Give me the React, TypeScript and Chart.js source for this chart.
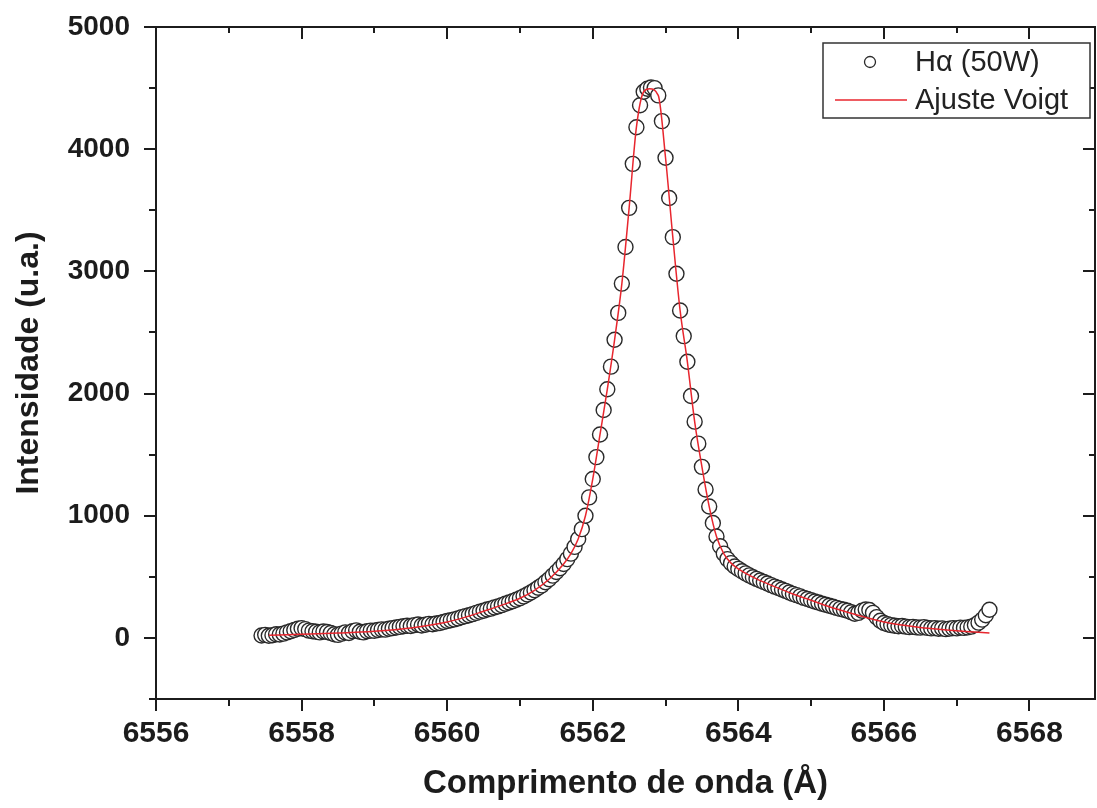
import React, { useEffect, useRef } from 'react';
import { Chart, registerables } from 'chart.js';

Chart.register(...registerables);

// Measured spectrum (Å, a.u.)
const wavelength = [
  6557.45, 6557.5, 6557.55, 6557.6, 6557.65, 6557.7, 6557.75, 6557.8, 6557.85, 6557.9,
  6557.95, 6558.0, 6558.05, 6558.1, 6558.15, 6558.2, 6558.25, 6558.3, 6558.35, 6558.4,
  6558.45, 6558.5, 6558.55, 6558.6, 6558.65, 6558.7, 6558.75, 6558.8, 6558.85, 6558.9,
  6558.95, 6559.0, 6559.05, 6559.1, 6559.15, 6559.2, 6559.25, 6559.3, 6559.35, 6559.4,
  6559.45, 6559.5, 6559.55, 6559.6, 6559.65, 6559.7, 6559.75, 6559.8, 6559.85, 6559.9,
  6559.95, 6560.0, 6560.05, 6560.1, 6560.15, 6560.2, 6560.25, 6560.3, 6560.35, 6560.4,
  6560.45, 6560.5, 6560.55, 6560.6, 6560.65, 6560.7, 6560.75, 6560.8, 6560.85, 6560.9,
  6560.95, 6561.0, 6561.05, 6561.1, 6561.15, 6561.2, 6561.25, 6561.3, 6561.35, 6561.4,
  6561.45, 6561.5, 6561.55, 6561.6, 6561.65, 6561.7, 6561.75, 6561.8, 6561.85, 6561.9,
  6561.95, 6562.0, 6562.05, 6562.1, 6562.15, 6562.2, 6562.25, 6562.3, 6562.35, 6562.4,
  6562.45, 6562.5, 6562.55, 6562.6, 6562.65, 6562.7, 6562.75, 6562.8, 6562.85, 6562.9,
  6562.95, 6563.0, 6563.05, 6563.1, 6563.15, 6563.2, 6563.25, 6563.3, 6563.35, 6563.4,
  6563.45, 6563.5, 6563.55, 6563.6, 6563.65, 6563.7, 6563.75, 6563.8, 6563.85, 6563.9,
  6563.95, 6564.0, 6564.05, 6564.1, 6564.15, 6564.2, 6564.25, 6564.3, 6564.35, 6564.4,
  6564.45, 6564.5, 6564.55, 6564.6, 6564.65, 6564.7, 6564.75, 6564.8, 6564.85, 6564.9,
  6564.95, 6565.0, 6565.05, 6565.1, 6565.15, 6565.2, 6565.25, 6565.3, 6565.35, 6565.4,
  6565.45, 6565.5, 6565.55, 6565.6, 6565.65, 6565.7, 6565.75, 6565.8, 6565.85, 6565.9,
  6565.95, 6566.0, 6566.05, 6566.1, 6566.15, 6566.2, 6566.25, 6566.3, 6566.35, 6566.4,
  6566.45, 6566.5, 6566.55, 6566.6, 6566.65, 6566.7, 6566.75, 6566.8, 6566.85, 6566.9,
  6566.95, 6567.0, 6567.05, 6567.1, 6567.15, 6567.2, 6567.25, 6567.3, 6567.35, 6567.4,
  6567.45,
];

const intensity = [
  20, 25, 18, 22, 30, 28, 35, 45, 55, 65,
  75, 80, 72, 60, 55, 50, 45, 52, 48, 40,
  30, 25, 35, 45, 40, 55, 62, 50, 45, 55,
  60, 58, 65, 70, 68, 75, 80, 85, 90, 95,
  100, 98, 105, 110, 102, 108, 115, 112, 118, 122,
  130, 138, 145, 152, 160, 170, 178, 185, 195, 205,
  215, 222, 232, 240, 250, 258, 268, 280, 290, 300,
  312, 325, 340, 355, 372, 390, 410, 430, 455, 480,
  510, 540, 570, 605, 645, 690, 745, 810, 890, 1000,
  1150, 1300, 1480, 1665, 1865, 2035, 2220, 2440, 2660, 2900,
  3200, 3520, 3880, 4180, 4360, 4470, 4495, 4505, 4500, 4440,
  4230, 3930, 3600, 3280, 2980, 2680, 2470, 2260, 1980, 1770,
  1590, 1400, 1215, 1075, 940, 830, 750, 690, 645, 612,
  585, 565, 545, 528, 512, 497, 483, 470, 457, 445,
  432, 420, 408, 396, 385, 372, 360, 350, 340, 328,
  318, 308, 298, 290, 280, 272, 263, 255, 246, 238,
  230, 222, 210, 198, 205, 222, 232, 228, 205, 170,
  140, 122, 112, 105, 100, 96, 98, 92, 88, 90,
  86, 84, 88, 82, 78, 80, 75, 78, 72, 76,
  80, 78, 84, 82, 86, 92, 105, 125, 150, 185,
  230,
];

// Voigt fit curve
const fitWavelength = [
  6557.55, 6558.0, 6558.5, 6559.0, 6559.5, 6560.0, 6560.25, 6560.5, 6560.75, 6561.0,
  6561.2, 6561.4, 6561.6, 6561.7, 6561.8, 6561.9, 6562.0, 6562.1, 6562.2, 6562.3,
  6562.4, 6562.5, 6562.6, 6562.7, 6562.78, 6562.9, 6563.0, 6563.1, 6563.2, 6563.3,
  6563.4, 6563.5, 6563.6, 6563.7, 6563.8, 6563.9, 6564.0, 6564.25, 6564.5, 6564.75,
  6565.0, 6565.25, 6565.5, 6565.75, 6566.0, 6566.25, 6566.5, 6566.75, 6567.0, 6567.25,
  6567.45,
];
const fitIntensity = [
  22, 30, 40, 55, 82, 130, 170, 218, 268, 325,
  390, 480, 605, 690, 810, 1000, 1300, 1665, 2035, 2440,
  2900, 3520, 4180, 4470, 4495, 4440, 3930, 3280, 2680, 2260,
  1770, 1400, 1075, 830, 690, 612, 565, 483, 420, 360,
  308, 255, 210, 168, 130, 105, 85, 70, 58, 48,
  40,
];

const seriesLabels = ['H\u03B1 (50W)', 'Ajuste Voigt'];
const xTicks = [6556, 6558, 6560, 6562, 6564, 6566, 6568];
const xMinorTicks = [6557, 6559, 6561, 6563, 6565, 6567];
const yTicks = [0, 1000, 2000, 3000, 4000, 5000];
const yMinorTicks = [-500, 500, 1500, 2500, 3500, 4500];

const FONT = '"Liberation Sans", Arial, Helvetica, sans-serif';
const INK = '#1c1c1c';

const framePlugin = {
  id: 'originFrame',
  afterDraw(chart: any) {
    const { ctx, chartArea } = chart;
    const { left, right, top, bottom } = chartArea;
    const xs = chart.scales.x;
    const ys = chart.scales.y;
    ctx.save();
    ctx.strokeStyle = INK;
    ctx.lineWidth = 2;
    ctx.strokeRect(left, top, right - left, bottom - top);
    const major = 12;
    const minorOut = 7;
    const minorIn = 6;
    ctx.beginPath();
    xTicks.forEach((v) => {
      const px = Math.round(xs.getPixelForValue(v));
      ctx.moveTo(px, bottom); ctx.lineTo(px, bottom + major);
      ctx.moveTo(px, top); ctx.lineTo(px, top + major);
    });
    xMinorTicks.forEach((v) => {
      const px = Math.round(xs.getPixelForValue(v));
      ctx.moveTo(px, bottom); ctx.lineTo(px, bottom + minorOut);
      ctx.moveTo(px, top); ctx.lineTo(px, top + minorIn);
    });
    yTicks.forEach((v) => {
      const py = Math.round(ys.getPixelForValue(v));
      ctx.moveTo(left, py); ctx.lineTo(left - major, py);
      ctx.moveTo(right, py); ctx.lineTo(right - major, py);
    });
    yMinorTicks.forEach((v) => {
      const py = Math.round(ys.getPixelForValue(v));
      ctx.moveTo(left, py); ctx.lineTo(left - minorOut, py);
      ctx.moveTo(right, py); ctx.lineTo(right - minorIn, py);
    });
    ctx.stroke();

    // Legend box
    const bx = 823, by = 43, bw = 267, bh = 75;
    ctx.fillStyle = '#ffffff';
    ctx.fillRect(bx, by, bw, bh);
    ctx.lineWidth = 1.5;
    ctx.strokeStyle = '#333333';
    ctx.strokeRect(bx, by, bw, bh);
    const ds0 = chart.data.datasets[0];
    const ds1 = chart.data.datasets[1];
    ctx.font = `29px ${FONT}`;
    ctx.textBaseline = 'middle';
    ctx.textAlign = 'left';
    ctx.beginPath();
    ctx.arc(870, 62, 5.5, 0, Math.PI * 2);
    ctx.fillStyle = '#ffffff';
    ctx.fill();
    ctx.lineWidth = 1.3;
    ctx.strokeStyle = ds0.borderColor;
    ctx.stroke();
    ctx.fillStyle = '#222222';
    ctx.fillText(ds0.label, 915, 63);
    ctx.beginPath();
    ctx.moveTo(835, 100);
    ctx.lineTo(907, 100);
    ctx.lineWidth = 1.5;
    ctx.strokeStyle = ds1.borderColor;
    ctx.stroke();
    ctx.fillText(ds1.label, 915, 101);
    ctx.restore();
  },
};

const zeroPadding = (scale: any) => {
  scale.paddingLeft = 0;
  scale.paddingRight = 0;
  scale.paddingTop = 0;
  scale.paddingBottom = 0;
};

export default function App() {
  const canvasRef = useRef<HTMLCanvasElement | null>(null);

  useEffect(() => {
    const canvas = canvasRef.current;
    if (!canvas) return;
    const points = wavelength.map((x, i) => ({ x, y: intensity[i] }));
    const fit = fitWavelength.map((x, i) => ({ x, y: fitIntensity[i] }));
    const chart = new Chart(canvas, {
      type: 'scatter',
      data: {
        datasets: [
          {
            label: seriesLabels[0],
            data: points,
            showLine: false,
            pointStyle: 'circle',
            pointRadius: 7.5,
            pointBorderWidth: 1.4,
            borderColor: '#2a2a2a',
            backgroundColor: '#ffffff',
            pointBackgroundColor: '#ffffff',
            pointBorderColor: '#2a2a2a',
            order: 2,
          },
          {
            label: seriesLabels[1],
            data: fit,
            showLine: true,
            pointRadius: 0,
            borderColor: '#e8262e',
            borderWidth: 1.5,
            cubicInterpolationMode: 'monotone',
            fill: false,
            order: 1,
          },
        ],
      },
      options: {
        animation: false,
        responsive: false,
        devicePixelRatio: 1,
        events: [],
        layout: { autoPadding: false, padding: { top: 27, right: 2, left: 0, bottom: 0 } },
        plugins: {
          legend: { display: false },
          tooltip: { enabled: false },
        },
        scales: {
          x: {
            type: 'linear',
            position: 'bottom',
            min: 6556,
            max: 6568.9,
            afterBuildTicks: (scale: any) => {
              scale.ticks = xTicks.map((value) => ({ value }));
            },
            afterFit: (scale: any) => {
              scale.height = 109;
              zeroPadding(scale);
            },
            grid: { display: false, drawTicks: false },
            border: { display: false },
            ticks: {
              autoSkip: false,
              maxRotation: 0,
              minRotation: 0,
              padding: 17,
              color: INK,
              font: { family: FONT, size: 30, weight: 'bold' },
              callback: (v: any) => String(v),
            },
            title: {
              display: true,
              text: 'Comprimento de onda (\u00C5)',
              color: INK,
              font: { family: FONT, size: 33, weight: 'bold' },
              padding: { top: 0, bottom: 4 },
            },
          },
          y: {
            type: 'linear',
            position: 'left',
            min: -500,
            max: 5000,
            afterBuildTicks: (scale: any) => {
              scale.ticks = yTicks.map((value) => ({ value }));
            },
            afterFit: (scale: any) => {
              scale.width = 156;
              zeroPadding(scale);
            },
            grid: { display: false, drawTicks: false },
            border: { display: false },
            ticks: {
              padding: 26,
              color: INK,
              font: { family: FONT, size: 28, weight: 'bold' },
              callback: (v: any) => String(v),
            },
            title: {
              display: true,
              text: 'Intensidade (u.a.)',
              color: INK,
              font: { family: FONT, size: 32, weight: 'bold' },
              padding: { top: 10, bottom: 0 },
            },
          },
        },
      },
      plugins: [framePlugin],
    } as any);
    return () => chart.destroy();
  }, []);

  return (
    <div style={{ position: 'fixed', left: 0, top: 0, width: 1097, height: 808, background: '#ffffff' }}>
      <canvas ref={canvasRef} width={1097} height={808} style={{ display: 'block' }} />
    </div>
  );
}
